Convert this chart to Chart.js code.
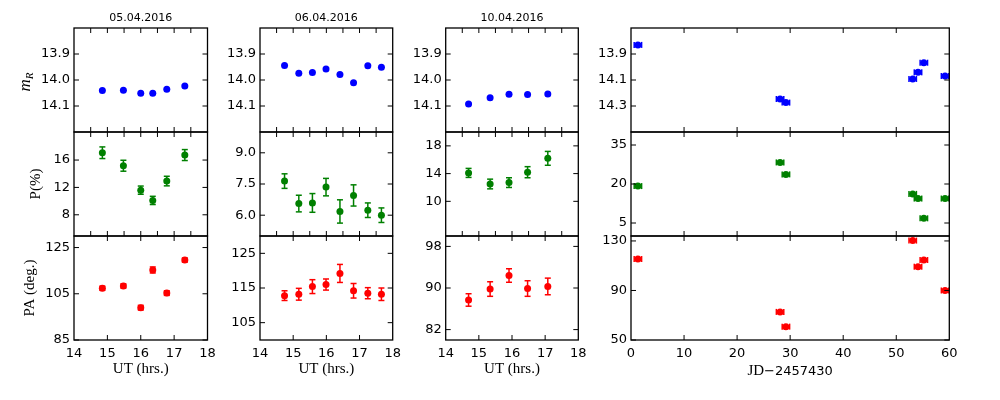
<!DOCTYPE html>
<html>
<head>
<meta charset="utf-8">
<script src="https://cdn.jsdelivr.net/npm/chart.js@4.4.1/dist/chart.umd.min.js"></script>
<style>
  html, body { margin: 0; padding: 0; background: #fff; }
  #wrap { position: relative; width: 1000px; height: 400px; }
  #wrap canvas { position: absolute; left: 0; top: 0; }
</style>
</head>
<body>
<div id="wrap"></div>
<script>
// 05.04.2016
const ut1 = [14.85, 15.48, 16.0, 16.36, 16.78, 17.32];
const mag1 = [14.040, 14.039, 14.051, 14.051, 14.036, 14.023];
const pol1 = [17.07, 15.17, 11.6, 10.1, 12.93, 16.73];
const polErr1 = [0.85, 0.8, 0.6, 0.6, 0.7, 0.8];
const pa1 = [107.4, 108.4, 99.0, 115.3, 105.3, 119.6];
const paErr1 = [0.9, 0.9, 1.0, 1.3, 1.0, 0.9];

// 06.04.2016
const ut2 = [14.74, 15.17, 15.58, 15.99, 16.41, 16.82, 17.25, 17.66];
const mag2 = [13.944, 13.974, 13.971, 13.958, 13.979, 14.011, 13.945, 13.951];
const pol2 = [7.64, 6.56, 6.59, 7.35, 6.18, 6.95, 6.24, 6.0];
const polErr2 = [0.35, 0.4, 0.45, 0.42, 0.56, 0.51, 0.35, 0.35];
const pa2 = [112.8, 113.2, 115.4, 116.0, 119.2, 114.2, 113.5, 113.2];
const paErr2 = [1.4, 1.7, 2.0, 1.6, 2.6, 2.1, 1.6, 1.8];

// 10.04.2016
const ut3 = [14.69, 15.34, 15.91, 16.47, 17.08];
const mag3 = [14.092, 14.068, 14.055, 14.056, 14.054];
const pol3 = [14.1, 12.5, 12.7, 14.2, 16.2];
const polErr3 = [0.65, 0.7, 0.7, 0.8, 1.0];
const pa3 = [87.7, 89.8, 92.4, 89.9, 90.3];
const paErr3 = [1.2, 1.4, 1.3, 1.5, 1.6];

// 長期 (JD-2457430)
const jd = [1.3, 28.1, 29.2, 53.1, 54.1, 55.2, 59.2];
const jdErr = [0.7, 0.7, 0.7, 0.7, 0.7, 0.7, 0.7];
const magJd = [13.83, 14.246, 14.274, 14.092, 14.041, 13.967, 14.069];
const polJd = [19.2, 28.3, 23.7, 16.2, 14.4, 6.8, 14.4];
const paJd = [115.4, 72.7, 60.8, 130.3, 109.2, 114.6, 90.0];

// 目盛り
const dates = ['05.04.2016', '06.04.2016', '10.04.2016', ''];
const utTicks = [14, 15, 16, 17, 18];
const utMarks = [14.5, 15, 15.5, 16, 16.5, 17, 17.5];
const utMarksBottom = [15, 16, 17];
const jdTicks = [0, 10, 20, 30, 40, 50, 60];
const jdMarks = [10, 20, 30, 40, 50];
const magTicks = [13.9, 14.0, 14.1];
const magTicksJd = [13.9, 14.1, 14.3];
const polTicks = [[8, 12, 16], [6.0, 7.5, 9.0], [10, 14, 18], [5, 20, 35]];
const paTicks = [[85, 105, 125], [105, 115, 125], [82, 90, 98], [50, 90, 130]];

const colors = ['#0000ff', '#008000', '#ff0000'];
const SANS = '"DejaVu Sans", sans-serif';
const SERIF = '"Liberation Serif", serif';

// パネル位置
const colLeft = [74, 260, 445.7, 631];
const colRight = [207.5, 392.7, 578.3, 949.3];
const rowTop = [28, 132, 236];
const rowBottom = [132, 236, 340];
const Y_AXIS_W = 60;
const X_AXIS_H = 30;

const xData = [ut1, ut2, ut3, jd];
const yData = [[mag1, pol1, pa1], [mag2, pol2, pa2], [mag3, pol3, pa3], [magJd, polJd, paJd]];
const yErrData = [[null, polErr1, paErr1], [null, polErr2, paErr2], [null, polErr3, paErr3], [null, null, null]];
const yLimits = [
  [[13.8, 14.2], [4.9, 20.1], [85, 130]],
  [[13.8, 14.2], [5, 10], [100, 130]],
  [[13.8, 14.2], [5, 20], [80, 100]],
  [[13.7, 14.5], [0, 40], [50, 134]]
];

// エラーバー
const errorBars = {
  id: 'errorBars',
  beforeDatasetsDraw(chart) {
    const {ctx, scales: {x, y}} = chart;
    chart.data.datasets.forEach(ds => {
      ctx.save();
      ctx.strokeStyle = ds.pointBackgroundColor;
      ctx.lineWidth = 1.5;
      const seg = (a, b, c, d) => { ctx.beginPath(); ctx.moveTo(a, b); ctx.lineTo(c, d); ctx.stroke(); };
      ds.data.forEach((p, i) => {
        const px = x.getPixelForValue(p.x), py = y.getPixelForValue(p.y);
        if (ds.yErr) {
          const y0 = y.getPixelForValue(p.y - ds.yErr[i]);
          const y1 = y.getPixelForValue(p.y + ds.yErr[i]);
          seg(px, y0, px, y1);
          seg(px - 3, y0, px + 3, y0);
          seg(px - 3, y1, px + 3, y1);
        }
        if (ds.xErr) {
          const x0 = x.getPixelForValue(p.x - ds.xErr[i]);
          const x1 = x.getPixelForValue(p.x + ds.xErr[i]);
          seg(x0, py, x1, py);
          seg(x0, py - 3, x0, py + 3);
          seg(x1, py - 3, x1, py + 3);
        }
      });
      ctx.restore();
    });
  }
};

// 枠・内向き目盛り・ラベル
const panelFrame = {
  id: 'panelFrame',
  afterDraw(chart, args, opts) {
    const {ctx, chartArea: a, scales: {x, y}} = chart;
    const seg = (p, q, r, s) => { ctx.beginPath(); ctx.moveTo(p, q); ctx.lineTo(r, s); ctx.stroke(); };
    ctx.save();
    ctx.strokeStyle = '#000';
    ctx.lineWidth = 1;
    opts.xMarks.forEach(v => {
      const px = x.getPixelForValue(v);
      seg(px, a.top, px, a.top + 5);
      seg(px, a.bottom, px, a.bottom - 5);
    });
    opts.yMarks.forEach(v => {
      const py = y.getPixelForValue(v);
      seg(a.left, py, a.left + 5, py);
      seg(a.right, py, a.right - 5, py);
    });
    ctx.lineWidth = 1.3;
    ctx.strokeRect(a.left, a.top, a.right - a.left, a.bottom - a.top);

    ctx.fillStyle = '#000';
    const cx = (a.left + a.right) / 2;
    if (opts.title) {
      ctx.font = '11px ' + SANS;
      ctx.textAlign = 'center';
      ctx.textBaseline = 'middle';
      ctx.fillText(opts.title, cx, 18);
    }
    if (opts.xTitle === 'ut') {
      ctx.font = '15px ' + SERIF;
      ctx.textAlign = 'center';
      ctx.textBaseline = 'middle';
      ctx.fillText('UT (hrs.)', cx, 369);
    } else if (opts.xTitle === 'jd') {
      ctx.textBaseline = 'alphabetic';
      ctx.textAlign = 'left';
      ctx.font = '15px ' + SERIF;
      const w1 = ctx.measureText('JD').width;
      ctx.font = '13px ' + SANS;
      const w2 = ctx.measureText('\u22122457430').width;
      const x0 = cx - (w1 + w2) / 2;
      ctx.font = '15px ' + SERIF;
      ctx.fillText('JD', x0, 375);
      ctx.font = '13px ' + SANS;
      ctx.fillText('\u22122457430', x0 + w1, 375);
    }
    if (opts.yTitle) {
      const cy = (a.top + a.bottom) / 2;
      ctx.save();
      if (opts.yTitle === 'mag') {
        ctx.translate(26, cy + 2);
        ctx.rotate(-Math.PI / 2);
        ctx.textAlign = 'left';
        ctx.textBaseline = 'alphabetic';
        ctx.font = 'italic 17px ' + SERIF;
        const wm = ctx.measureText('m').width;
        ctx.font = 'italic 11px ' + SERIF;
        const wr = ctx.measureText('R').width;
        const s = -(wm + wr) / 2;
        ctx.font = 'italic 17px ' + SERIF;
        ctx.fillText('m', s, 4);
        ctx.font = 'italic 11px ' + SERIF;
        ctx.fillText('R', s + wm, 7);
      } else {
        ctx.translate(opts.yTitle === 'pol' ? 36 : 30, cy);
        ctx.rotate(-Math.PI / 2);
        ctx.textAlign = 'center';
        ctx.textBaseline = 'middle';
        ctx.font = '15px ' + SERIF;
        ctx.fillText(opts.yTitle === 'pol' ? 'P(%)' : 'PA (deg.)', 0, 0);
      }
      ctx.restore();
    }
    ctx.restore();
  }
};

const wrap = document.getElementById('wrap');
const yTitles = ['mag', 'pol', 'pa'];

for (let c = 0; c < 4; c++) {
  for (let r = 0; r < 3; r++) {
    const canvas = document.createElement('canvas');
    canvas.width = 1000;
    canvas.height = 400;
    wrap.appendChild(canvas);

    const xs = xData[c];
    const ys = yData[c][r];
    const pts = xs.map((v, i) => ({x: v, y: ys[i]}));
    const xLabels = c === 3 ? jdTicks : utTicks;
    const xMarks = c === 3 ? jdMarks : (r === 2 ? utMarksBottom : utMarks);
    let yt, dec;
    if (r === 0) { yt = c === 3 ? magTicksJd : magTicks; dec = 1; }
    else if (r === 1) { yt = polTicks[c]; dec = c === 1 ? 1 : 0; }
    else { yt = paTicks[c]; dec = 0; }
    const lim = yLimits[c][r];
    const tickFont = {family: SANS, size: 13};
    const xh = r === 2 ? X_AXIS_H : 0;

    new Chart(canvas, {
      type: 'scatter',
      data: {
        datasets: [{
          data: pts,
          pointBackgroundColor: colors[r],
          pointBorderWidth: 0,
          pointRadius: 3.5,
          yErr: yErrData[c][r],
          xErr: c === 3 ? jdErr : null
        }]
      },
      options: {
        responsive: false,
        animation: false,
        events: [],
        layout: {padding: {
          left: colLeft[c] - Y_AXIS_W,
          right: 1000 - colRight[c],
          top: rowTop[r],
          bottom: 400 - rowBottom[r] - xh
        }},
        plugins: {
          legend: {display: false},
          tooltip: {enabled: false},
          panelFrame: {
            xMarks: xMarks,
            yMarks: yt,
            title: r === 0 ? dates[c] : '',
            xTitle: r === 2 ? (c === 3 ? 'jd' : 'ut') : '',
            yTitle: c === 0 ? yTitles[r] : ''
          }
        },
        scales: {
          x: {
            type: 'linear',
            min: c === 3 ? 0 : 14,
            max: c === 3 ? 60 : 18,
            afterBuildTicks: s => { s.ticks = xLabels.map(v => ({value: v})); },
            afterFit: s => { s.height = xh; s.paddingLeft = 0; s.paddingRight = 0; },
            grid: {display: false, drawTicks: false},
            border: {display: false},
            ticks: {display: r === 2, autoSkip: false, maxRotation: 0, minRotation: 0, padding: 6, color: '#000', font: tickFont,
              callback: v => String(v)}
          },
          y: {
            type: 'linear',
            min: lim[0],
            max: lim[1],
            reverse: r === 0,
            afterBuildTicks: s => { s.ticks = yt.map(v => ({value: v})); },
            afterFit: s => { s.width = Y_AXIS_W; s.paddingTop = 0; s.paddingBottom = 0; },
            grid: {display: false, drawTicks: false},
            border: {display: false},
            ticks: {autoSkip: false, padding: 4, color: '#000', font: tickFont,
              callback: v => v.toFixed(dec)}
          }
        }
      },
      plugins: [errorBars, panelFrame]
    });
  }
}
</script>
</body>
</html>
